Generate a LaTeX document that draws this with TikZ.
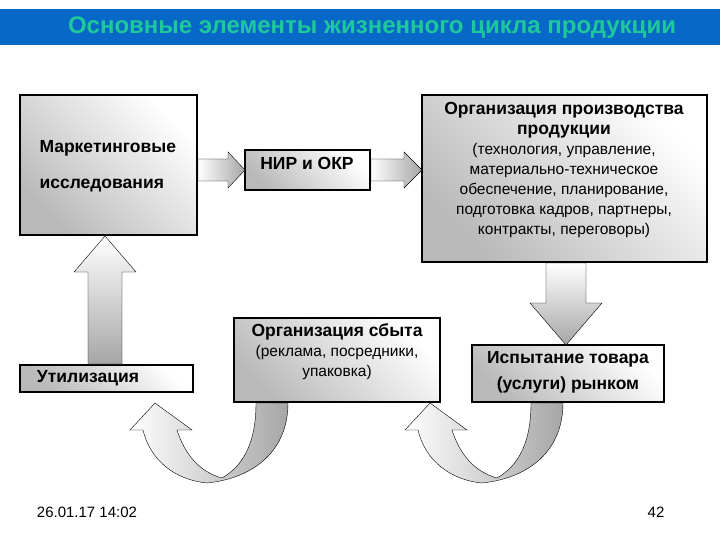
\documentclass[tikz,border=0pt]{standalone}
\usepackage{fontspec}
\setmainfont{Liberation Sans}
\definecolor{barblue}{HTML}{0868C8}
\definecolor{titlegreen}{HTML}{1FC89A}
\begin{document}
\begin{tikzpicture}[x=1pt,y=-1pt,
  box/.style={draw=black,line width=1.6pt,top color=white,bottom color=gray!55,shading angle=-45,inner sep=0pt},
  arr/.style={draw=black,line width=0.4pt,left color=white,right color=gray!70},
  txt/.style={align=center,font=\fontsize{15.5}{20}\selectfont}]
\useasboundingbox (0,0) rectangle (720,540);
\fill[barblue] (0,9) rectangle (720,45);
\node[text=titlegreen,font=\fontsize{24}{26}\selectfont\bfseries] (title) at (372,28) {Основные элементы жизненного цикла продукции};
% boxes
\draw[box] (20,95) rectangle (197,235);
\node[font=\fontsize{17.5}{20}\selectfont\bfseries,align=left,anchor=west] (mk) at (36,166) {Маркетинговые\\[16pt]исследования};
\draw[box] (245,150) rectangle (370,190);
\node[font=\fontsize{17.5}{20}\selectfont\bfseries] (nir) at (307,163) {НИР и ОКР};
\draw[box] (422,95) rectangle (707,262);
\node[txt,anchor=north] (org) at (564,99) {\fontsize{17.5}{24}\selectfont\bfseries Организация производства\\\fontsize{17.5}{23}\selectfont\bfseries продукции\\ (технология, управление,\\ материально-техническое\\ обеспечение, планирование,\\ подготовка кадров, партнеры,\\ контракты, переговоры)};
\draw[box] (20,365) rectangle (193,392);
\node[font=\fontsize{17.5}{20}\selectfont\bfseries] (ut) at (88,378) {Утилизация};
\draw[box] (234,318) rectangle (440,402);
\node[txt,anchor=north] (sb) at (337,320) {\fontsize{17.5}{21}\selectfont\bfseries Организация сбыта\\ (реклама, посредники,\\ упаковка)};
\draw[box] (472,345) rectangle (664,402);
\node[align=center,font=\fontsize{17.5}{26}\selectfont\bfseries] (isp) at (568,372) {Испытание товара\\(услуги) рынком};
% straight arrows
\draw[arr] (198,159)--(228,159)--(228,152)--(245,170)--(228,188)--(228,181)--(198,181)--cycle;
\draw[arr] (371,159)--(404,159)--(404,152)--(422,170)--(404,188)--(404,181)--(371,181)--cycle;
\draw[arr,top color=white,bottom color=gray!70] (546,263)--(586,263)--(586,303)--(602,303)--(566,345)--(530,303)--(546,303)--cycle;
\draw[arr,top color=white,bottom color=gray!70] (88,364)--(122,364)--(122,272)--(136,272)--(105,236)--(74,272)--(88,272)--cycle;
% curved arrows
\foreach \s in {0,275}{
\draw[arr,shift={(\s,0)}] (288,403) .. controls (288,450) and (255,478) .. (207,483)
  .. controls (175,480) and (150,460) .. (143,430) -- (130,430) -- (155,403) -- (192,430) -- (177,430)
  .. controls (185,455) and (200,472) .. (222,478)
  .. controls (245,465) and (256,440) .. (256,403) -- cycle;
}
\node[font=\fontsize{15}{17}\selectfont] (date) at (87,512) {26.01.17 14:02};
\node[font=\fontsize{15}{17}\selectfont] (pg) at (656,512) {42};
\end{tikzpicture}
\end{document}
